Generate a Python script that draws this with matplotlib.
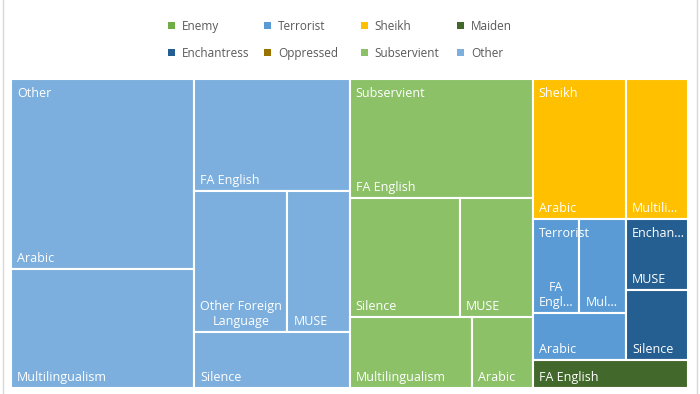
import matplotlib
matplotlib.use("Agg")
import matplotlib.pyplot as plt
from matplotlib.patches import Rectangle
from matplotlib.lines import Line2D
from matplotlib.font_manager import FontProperties

# Categories in legend order (row by row)
groups = ["Enemy", "Terrorist", "Sheikh", "Maiden",
          "Enchantress", "Oppressed", "Subservient", "Other"]
group_colors = ["#70AD47", "#5B9BD5", "#FFC000", "#43682B",
                "#255E91", "#997300", "#8CC168", "#7CAFDD"]

# Leaves of each category
enemy_labels, enemy_values = [], []
terrorist_labels = ["FA English", "Multilingualism", "Arabic"]
terrorist_values = [1, 1, 1]
sheikh_labels = ["Arabic", "Multilingualism"]
sheikh_values = [3, 2]
maiden_labels = ["FA English"]
maiden_values = [1]
enchantress_labels = ["MUSE", "Silence"]
enchantress_values = [1, 1]
oppressed_labels, oppressed_values = [], []
subservient_labels = ["FA English", "Silence", "MUSE", "Multilingualism", "Arabic"]
subservient_values = [5, 3, 2, 2, 1]
other_labels = ["Arabic", "Multilingualism", "FA English",
                "Other Foreign Language", "MUSE", "Silence"]
other_values = [8, 5, 4, 3, 2, 2]

leaves = {
    "Enemy": (enemy_labels, enemy_values),
    "Terrorist": (terrorist_labels, terrorist_values),
    "Sheikh": (sheikh_labels, sheikh_values),
    "Maiden": (maiden_labels, maiden_values),
    "Enchantress": (enchantress_labels, enchantress_values),
    "Oppressed": (oppressed_labels, oppressed_values),
    "Subservient": (subservient_labels, subservient_values),
    "Other": (other_labels, other_values),
}


def squarify(values, x0, y0, x1, y1, ratio=1.2):
    # d3-style squarified layout, rows placed at top / left
    rects = []
    total = float(sum(values))
    n = len(values)
    i0 = 0
    while i0 < n:
        dx, dy = x1 - x0, y1 - y0
        s = values[i0]
        mn = mx = s
        alpha = max(dy / dx, dx / dy) / (total * ratio)
        beta = s * s * alpha
        best = max(mx / beta, beta / mn)
        i1 = i0 + 1
        while i1 < n:
            v = values[i1]
            s2 = s + v
            beta = s2 * s2 * alpha
            r = max(max(mx, v) / beta, beta / min(mn, v))
            if r > best:
                break
            s, mn, mx, best = s2, min(mn, v), max(mx, v), r
            i1 += 1
        row = values[i0:i1]
        if dx < dy:
            h = dy * s / total
            x = x0
            for v in row:
                w = dx * v / s
                rects.append((x, y0, w, h))
                x += w
            y0 += h
        else:
            w = dx * s / total
            y = y0
            for v in row:
                h = dy * v / s
                rects.append((x0, y, w, h))
                y += h
            x0 += w
        total -= s
        i0 = i1
    return rects


W, H = 677, 309
fig = plt.figure(figsize=(7, 3.94), dpi=100)
ax = fig.add_axes([11 / 700, 1 - 388 / 394, W / 700, H / 394])
ax.set_xlim(0, W)
ax.set_ylim(H, 0)
ax.axis("off")

font = FontProperties(family="Open Sans", size=9)
renderer = fig.canvas.get_renderer()
pad = 6


def text_w(s):
    return renderer.get_text_width_height_descent(s, font, ismath=False)[0]


def truncate(word, maxw):
    if text_w(word) <= maxw:
        return word
    for k in range(len(word) - 1, 0, -1):
        cand = word[:k] + "..."
        if text_w(cand) <= maxw:
            return cand
    return word[0] + "..."


def fit(label, maxw, wrap=True):
    if text_w(label) <= maxw:
        return label
    words = label.split()
    if not wrap or len(words) == 1:
        return truncate(label, maxw)
    lines = []
    cur = ""
    for wd in words:
        test = (cur + " " + wd).strip()
        if text_w(test) <= maxw or not cur:
            cur = test
        else:
            lines.append(cur)
            cur = wd
    lines.append(cur)
    return "\n".join(truncate(l, maxw) for l in lines)


# sort top-level by size, leaves by size
totals = [sum(leaves[g][1]) for g in groups]
order = [i for i in sorted(range(len(groups)), key=lambda i: -totals[i]) if totals[i] > 0]
group_rects = squarify([totals[i] for i in order], 0, 0, W, H)

for gi, (gx, gy, gw, gh) in zip(order, group_rects):
    name = groups[gi]
    labels, values = leaves[name]
    idx = sorted(range(len(values)), key=lambda k: -values[k])
    sub = squarify([values[k] for k in idx], gx, gy, gx + gw, gy + gh)
    for k, (x, y, w, h) in zip(idx, sub):
        ax.add_patch(Rectangle((x, y), w, h, facecolor=group_colors[gi],
                               edgecolor="white", linewidth=1.5))
        ax.text(x + pad, y + h - 7, fit(labels[k], w - pad - 5),
                color="white", fontproperties=font, ha="left", va="baseline",
                multialignment="center")
    # group name only where there is room above the leaf labels
    if gh > 45:
        ax.text(gx + pad, gy + 18, fit(name, gw - pad - 2, wrap=False),
                color="white", fontproperties=font, ha="left", va="baseline")

# legend: 4 equal-width columns, two rows, centred above the plot
leg_font = FontProperties(family="Open Sans", size=8.5)
col_w, row_h, box = 96.3 / 700, 27 / 394, 7
leg_x0, leg_y0 = 168 / 700, 1 - 25 / 394
for j, name in enumerate(groups):
    cx = leg_x0 + (j % 4) * col_w
    cy = leg_y0 - (j // 4) * row_h
    fig.add_artist(Rectangle((cx, cy - box / 2 / 394), box / 700, box / 394,
                             transform=fig.transFigure, facecolor=group_colors[j],
                             edgecolor="none"))
    fig.text(cx + 14 / 700, cy, name, fontproperties=leg_font, color="#595959",
             ha="left", va="center_baseline")

# chart frame edges
for xf in (2.5 / 700, 697 / 700):
    fig.add_artist(Line2D([xf, xf], [0, 1], transform=fig.transFigure,
                          color="#D9D9D9", linewidth=1))

fig.savefig("out.png", dpi=100, facecolor="white")
